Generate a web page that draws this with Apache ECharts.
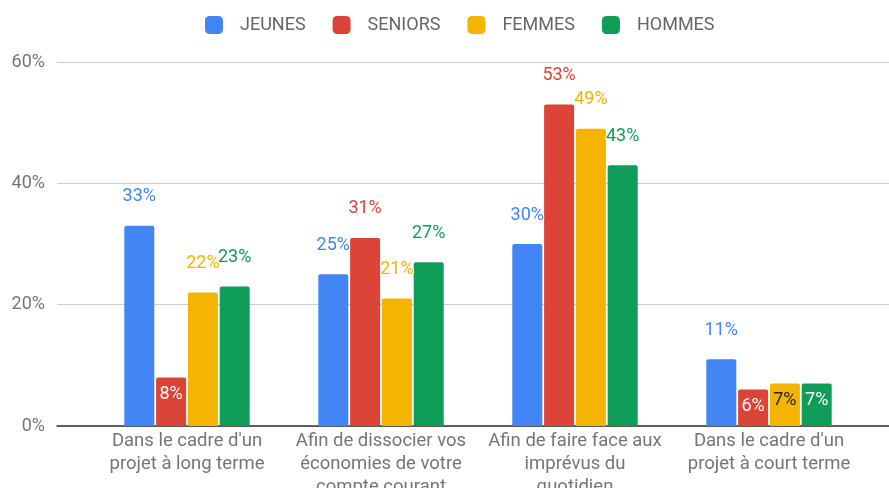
<!DOCTYPE html>
<html>
<head>
<meta charset="utf-8">
<script src="https://cdn.jsdelivr.net/npm/echarts@6/dist/echarts.min.js"></script>
<style>
  html, body { margin: 0; padding: 0; background: #fff; }
  #chart { width: 889px; height: 488px; }
</style>
</head>
<body>
<div id="chart"></div>
<script>
const categories = [
  "Dans le cadre d'un\nprojet à long terme",
  "Afin de dissocier vos\néconomies de votre\ncompte courant",
  "Afin de faire face aux\nimprévus du\nquotidien",
  "Dans le cadre d'un\nprojet à court terme"
];
const seriesNames = ["JEUNES", "SENIORS", "FEMMES", "HOMMES"];
const jeunes = [33, 25, 30, 11];
const seniors = [8, 31, 53, 6];
const femmes = [22, 21, 49, 7];
const hommes = [23, 27, 43, 7];
const yTicks = [0, 20, 40, 60];

const colors = ["#4285f4", "#db4437", "#f4b400", "#0f9d58"];
const insideText = ["#fff", "#fff", "#222", "#fff"];
const font = "Roboto";

const chart = echarts.init(document.getElementById("chart"));

const makeSeries = (name, values, i) => ({
  name: name,
  type: "bar",
  xAxisIndex: 1,
  yAxisIndex: 1,
  barWidth: 30,
  barGap: "6%",
  itemStyle: { color: colors[i], borderRadius: [2, 2, 0, 0] },
  label: {
    show: true,
    position: "top",
    distance: 20,
    formatter: "{c}%",
    fontFamily: font,
    fontSize: 18,
    color: colors[i],
    textBorderColor: "#fff",
    textBorderWidth: 2
  },
  data: values.map(v => v < 10
    ? { value: v, label: { position: "insideTop", distance: 8, color: insideText[i], textBorderWidth: 0 } }
    : v)
});

const option = {
  animation: false,
  textStyle: { fontFamily: font },
  legend: {
    top: 11,
    left: 200,
    itemWidth: 18,
    itemHeight: 18,
    itemGap: 27,
    icon: "roundRect",
    textStyle: { fontFamily: font, fontSize: 18, color: "#666", padding: [0, 0, 0, 12] },
    data: seriesNames
  },
  grid: [
    { left: 57, right: 0, top: 62, bottom: 62, outerBoundsMode: "none" },
    { left: 90, right: 23, top: 62, bottom: 62, outerBoundsMode: "none" }
  ],
  xAxis: [
    {
      gridIndex: 0, type: "value", min: 0, max: 1,
      axisLine: { show: true, lineStyle: { color: "#333", width: 1.5 } },
      axisTick: { show: false }, axisLabel: { show: false }, splitLine: { show: false }
    },
    {
      gridIndex: 1, type: "category", data: categories,
      axisLine: { show: false }, axisTick: { show: false },
      axisLabel: { fontFamily: font, fontSize: 18.5, color: "#757575", lineHeight: 23, margin: 4, interval: 0 }
    }
  ],
  yAxis: [
    {
      gridIndex: 0, type: "value", min: yTicks[0], max: yTicks[yTicks.length - 1], interval: 20,
      axisLine: { show: false }, axisTick: { show: false },
      axisLabel: { formatter: "{value}%", fontFamily: font, fontSize: 18, color: "#757575", margin: 12 },
      splitLine: { lineStyle: { color: "#cccccc" } }
    },
    {
      gridIndex: 1, type: "value", min: yTicks[0], max: yTicks[yTicks.length - 1], interval: 20,
      show: false, splitLine: { show: false }
    }
  ],
  series: [
    makeSeries(seriesNames[0], jeunes, 0),
    makeSeries(seriesNames[1], seniors, 1),
    makeSeries(seriesNames[2], femmes, 2),
    makeSeries(seriesNames[3], hommes, 3)
  ]
};

chart.setOption(option);
</script>
</body>
</html>
